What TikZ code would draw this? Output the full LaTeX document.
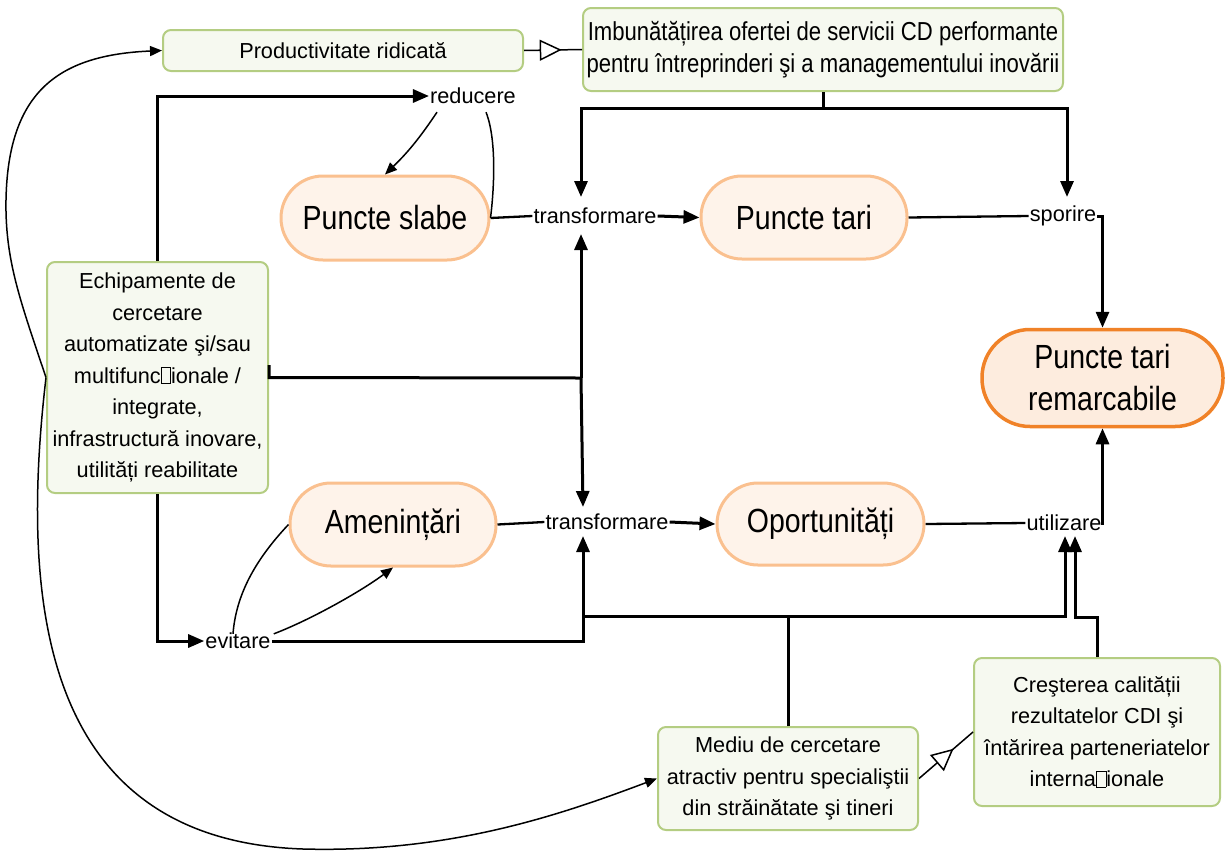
\documentclass[tikz,border=0pt]{standalone}
\usepackage{fontspec}
\setmainfont{Liberation Sans}
\newfontfamily\narrowfont[FakeStretch=0.85]{Liberation Sans}
\usetikzlibrary{arrows.meta,decorations.markings}
\definecolor{gbord}{RGB}{180,205,130}
\definecolor{gfill}{RGB}{246,249,240}
\definecolor{obord}{RGB}{250,192,143}
\definecolor{ofill}{RGB}{254,243,234}
\definecolor{rbord}{RGB}{240,130,40}
\definecolor{rfill}{RGB}{253,236,222}
\newcommand{\tofu}{{\fboxsep=0pt\fboxrule=0.6pt\fbox{\rule{0pt}{0.7em}\hspace{0.42em}}}}
\begin{document}
\begin{tikzpicture}[x=1pt,y=-1pt,
 smallfont/.style={font=\fontsize{21.7}{31.5}\selectfont},
 gbox/.style={draw=gbord, fill=gfill, line width=2pt, rounded corners=8pt, align=center, smallfont, inner sep=0pt},
 pill/.style={draw=obord, fill=ofill, line width=3pt, font=\narrowfont\fontsize{33.5}{42}\selectfont, align=center, inner sep=0pt},
 lab/.style={smallfont, inner sep=1pt},
 conn/.style={line width=2.3pt},
 bold/.style={line width=3pt},
 arr/.style={line width=3pt, -{Triangle[length=16pt,width=13pt]}},
 thinarr/.style={line width=1.5pt, -{Triangle[length=12pt,width=10pt]}},
 thinline/.style={line width=1.5pt},
 midtri/.style={line width=1.5pt, postaction={decorate}, decoration={markings, mark=at position #1 with {\arrow{Triangle[length=22pt,width=21pt,fill=white,line width=1.5pt]}}}},
]
\useasboundingbox (0,0) rectangle (1225,852);

% boxes
\node[gbox, minimum width=360pt, minimum height=41pt] (PR) at (343,50.5) {Productivitate ridicată};
\node[gbox, minimum width=480pt, minimum height=83pt, font=\narrowfont\fontsize{26}{32}\selectfont] (IM) at (823,49.5) {Imbunătățirea ofertei de servicii CD performante\\pentru întreprinderi şi a managementului inovării};
\node[gbox, minimum width=221pt, minimum height=231pt] (EQ) at (157.5,377.5) {Echipamente de\\cercetare\\automatizate şi/sau\\multifunc\tofu ionale /\\integrate,\\infrastructură inovare,\\utilități reabilitate};
\node[gbox, minimum width=260pt, minimum height=103pt] (ME) at (788,778.5) {Mediu de cercetare\\atractiv pentru specialiştii\\din străinătate şi tineri};
\node[gbox, minimum width=246pt, minimum height=148pt] (CR) at (1097,732) {Creşterea calității\\rezultatelor CDI şi\\întărirea parteneriatelor\\interna\tofu ionale};

% pills
\node[pill, minimum width=208pt, minimum height=84pt, rounded corners=42pt] (PS) at (385,218) {Puncte slabe};
\node[pill, minimum width=206pt, minimum height=83pt, rounded corners=41pt] (PT) at (804,217.5) {Puncte tari};
\node[pill, minimum width=206pt, minimum height=83pt, rounded corners=41pt] (AM) at (393,524.5) {Amenințări};
\node[pill, minimum width=207pt, minimum height=82pt, rounded corners=41pt] (OP) at (820.5,524) {Oportunități};
\node[pill, draw=rbord, fill=rfill, line width=3.5pt, minimum width=241pt, minimum height=97pt, rounded corners=48pt] (PTR) at (1102.5,378) {Puncte tari\\remarcabile};

% labels
\node[lab] (red) at (473,96) {reducere};
\node[lab] (tr1) at (595,216) {transformare};
\node[lab] (sp) at (1063,216) {sporire};
\node[lab] (tr2) at (607,522) {transformare};
\node[lab] (ut) at (1064,523) {utilizare};
\node[lab] (ev) at (238,641) {evitare};

% coordinates
\coordinate (b1) at (581,108);
\coordinate (b2) at (1067,108);
\coordinate (a1) at (581,197);
\coordinate (a1s) at (1067,197);
\coordinate (jx) at (581,378);
\coordinate (a2) at (581,234);
\coordinate (a3) at (583,507);
\coordinate (a4) at (583,536);
\coordinate (m0) at (583,616);
\coordinate (m1) at (788,616);
\coordinate (a5) at (1065,536);
\coordinate (c6) at (1075,617);
\coordinate (a6) at (1075,536);

% top bus
\draw[arr] (IM.south) |- (b1) -- (a1);
\draw[arr] (b1) -| (a1s);

% upper chain
\draw[arr] (EQ.north) |- (red.west);
\draw[thinarr] ([xshift=-36pt,yshift=-7pt]red.south) to[bend left=6] (PS.north);
\draw[thinline] ([xshift=13pt,yshift=-7pt]red.south) .. controls (497,140) and (494,190) .. (PS.east);
\draw[conn] (PS.east) -- (tr1.west);
\draw[arr] (tr1.east) -- (PT.west);
\draw[conn] (PT.east) -- (sp.west);
\draw[arr] (sp.east) -| (PTR.north);

% middle feed
\draw[bold] ([yshift=12.5pt]EQ.east) -- (EQ.east) -- (jx);
\draw[arr] (jx) -- (a2);
\draw[arr] (jx) -- (a3);

% lower chain
\draw[arr] (EQ.south) |- (ev.west);
\draw[thinarr] ([xshift=2pt,yshift=-2pt]ev.north east) .. controls (310,620) and (360,592) .. (AM.south);
\draw[thinline] ([xshift=-5pt,yshift=-2pt]ev.north) .. controls (236,595) and (255,560) .. (AM.west);
\draw[arr] (ev.east) -| (a4);
\draw[conn] (AM.east) -- (tr2.west);
\draw[arr] (tr2.east) -- (OP.west);
\draw[conn] (OP.east) -- (ut.west);
\draw[arr] (ut.east) -| (PTR.south);

% bottom bus
\draw[bold] (ME.north) -- (m1);
\draw[arr] (m0) -| (a5);
\draw[arr] (CR.north) |- (c6) -- (a6);

% triangle links
\draw[midtri=0.65] (PR.east) -- (IM.west);
\draw[midtri=0.64] (ME.east) -- (CR.west);

% big curves
\draw[thinarr] (EQ.west) .. controls (20,300) and (5,260) .. (6,200) .. controls (8,90) and (60,55) .. (PR.west);
\draw[thinarr] (EQ.west) .. controls (20,600) and (40,840) .. (303,849) .. controls (450,853) and (560,815) .. (ME.west);
\end{tikzpicture}
\end{document}
